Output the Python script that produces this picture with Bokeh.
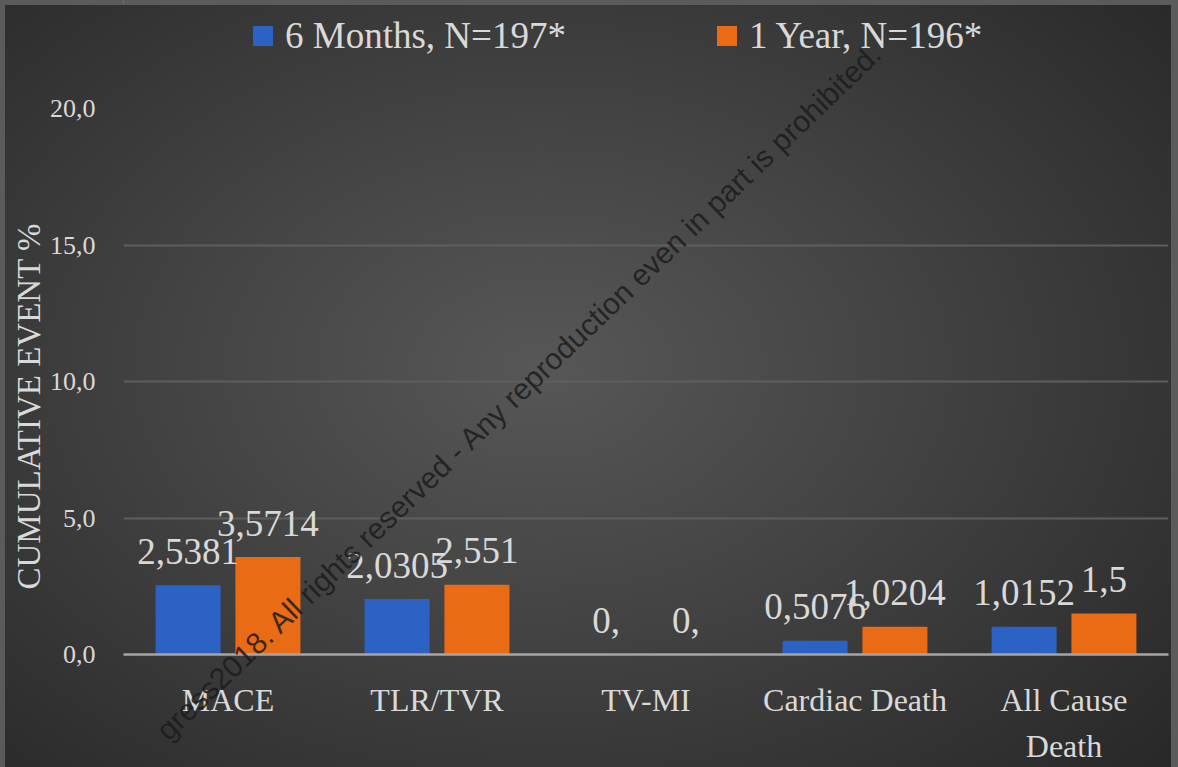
from bokeh.plotting import figure
from bokeh.layouts import column
from bokeh.models import (FactorRange, Range1d, Legend, LegendItem, ColumnDataSource,
                          Label, FixedTicker)
from bokeh.transform import dodge
from bokeh.core.properties import value
from bokeh.embed import file_html
from bokeh.resources import INLINE

# ---- data ----
categories = ["MACE", "TLR/TVR", "TV-MI", "Cardiac Death", "All Cause\nDeath"]
six_months = [2.5381, 2.0305, 0.0, 0.5076, 1.0152]
one_year = [3.5714, 2.551, 0.0, 1.0204, 1.5]
six_months_labels = ["2,5381", "2,0305", "0,", "0,5076", "1,0152"]
one_year_labels = ["3,5714", "2,551", "0,", "1,0204", "1,5"]
series_names = ["6 Months, N=197*", "1 Year, N=196*"]
y_ticks = [0, 5, 10, 15, 20]
y_tick_labels = ["0,0", "5,0", "10,0", "15,0", "20,0"]
y_title = "CUMULATIVE EVENT %"
watermark = "gress2018. All rights reserved - Any reproduction even in part is prohibited."

SERIF = "Liberation Serif"
TXT = "#d9d9d9"
BLUE = "#2b62c4"
ORANGE = "#e96b16"
W_PX, H_PX = 1178, 767
FL, FR = 123, 10   # frame borders left / right

source = ColumnDataSource(dict(cat=categories, six=six_months, year=one_year,
                               six_lbl=six_months_labels, year_lbl=one_year_labels))

p = figure(x_range=FactorRange(factors=categories, range_padding=0),
           y_range=Range1d(0, 20),
           width=W_PX, height=H_PX, output_backend="svg", toolbar_location=None,
           min_border_left=FL, min_border_right=FR, min_border_top=108, min_border_bottom=108)

p.styles = {
    "background": "radial-gradient(ellipse 75% 80% at 46% 48%, #575757 0%, #444444 40%, #262626 100%)",
    "box-shadow": "inset 5px 5px 0 #5b5b5b, inset -7px 0 0 #5b5b5b",
}
p.background_fill_color = None
p.border_fill_color = None
p.outline_line_color = None

OFF = 0.191
W = 0.311
r1 = p.vbar(x=dodge("cat", -OFF, range=p.x_range), top="six", width=W, source=source,
            fill_color=BLUE, line_color=None)
r2 = p.vbar(x=dodge("cat", OFF, range=p.x_range), top="year", width=W, source=source,
            fill_color=ORANGE, line_color=None)

for xo, col, lbl in ((-OFF, "six", "six_lbl"), (OFF, "year", "year_lbl")):
    p.text(x=dodge("cat", xo, range=p.x_range), y=col, text=lbl, source=source,
           text_align="center", text_baseline="alphabetic", y_offset=-34,
           text_font=value(SERIF), text_font_size="37px", text_color=TXT)

# grid
p.xgrid.grid_line_color = None
p.ygrid.grid_line_color = "#5e5e5e"
p.ygrid.grid_line_width = 2

# y axis
p.yaxis.ticker = FixedTicker(ticks=y_ticks)
p.yaxis.major_label_overrides = dict(zip(y_ticks, y_tick_labels))
p.yaxis.axis_line_color = None
p.yaxis.major_tick_line_color = None
p.yaxis.minor_tick_line_color = None
p.yaxis.major_label_standoff = 22
p.yaxis.major_label_text_font = SERIF
p.yaxis.major_label_text_font_size = "26px"
p.yaxis.major_label_text_color = TXT
p.yaxis.axis_label = y_title + "\u00a0" * 6
p.yaxis.axis_label_text_font = SERIF
p.yaxis.axis_label_text_font_size = "33px"
p.yaxis.axis_label_text_font_style = "normal"
p.yaxis.axis_label_text_color = TXT
p.yaxis.axis_label_standoff = 0

# x axis
p.xaxis.axis_line_color = "#a6a6a6"
p.xaxis.axis_line_width = 2.5
p.xaxis.major_tick_line_color = None
p.xaxis.minor_tick_line_color = None
p.xaxis.major_label_standoff = 21
p.xaxis.major_label_text_font = SERIF
p.xaxis.major_label_text_font_size = "32px"
p.xaxis.major_label_text_line_height = 1.3
p.xaxis.major_label_text_color = TXT

# ---- overlay canvas (legend + watermark, not clipped to the plot frame) ----
# its frame spans the full height; horizontally it is aligned with the main frame,
# so data units equal page pixels.
p2 = figure(width=W_PX, height=H_PX, output_backend="svg", toolbar_location=None,
            x_range=Range1d(FL, W_PX - FR), y_range=Range1d(H_PX, 0),
            x_axis_location=None, y_axis_location=None,
            min_border_left=FL, min_border_right=FR, min_border_top=0, min_border_bottom=0)
p2.grid.visible = False
p2.background_fill_color = None
p2.border_fill_color = None
p2.outline_line_color = None
p2.styles = {"margin-top": f"-{H_PX}px"}

# zero-width proxies so that the legend swatches get their colours
k1 = p2.vbar(x="six", top="six", width=0, source=source, fill_color=BLUE, line_color=None)
k2 = p2.vbar(x="year", top="year", width=0, source=source, fill_color=ORANGE, line_color=None)
for r, name, loc in ((k1, series_names[0], (250 - FL, 710)), (k2, series_names[1], (714 - FL, 710))):
    lg = Legend(items=[LegendItem(label=name, renderers=[r])], location=loc,
                orientation="horizontal", glyph_width=25, glyph_height=25,
                label_standoff=10, label_text_font=SERIF, label_text_font_size="37px",
                label_text_color=TXT, background_fill_alpha=0, border_line_color=None,
                padding=0, margin=0, label_height=40)
    p2.add_layout(lg)

p2.add_layout(Label(x=878, y=46, text=watermark,
                    angle=43.8, angle_units="deg", text_align="right", text_baseline="alphabetic",
                    text_font="Liberation Sans", text_font_size="30px", text_color="#1c1c1c",
                    text_alpha=0.85))

layout = column(p, p2)
open("out.html", "w").write(file_html(layout, INLINE))
